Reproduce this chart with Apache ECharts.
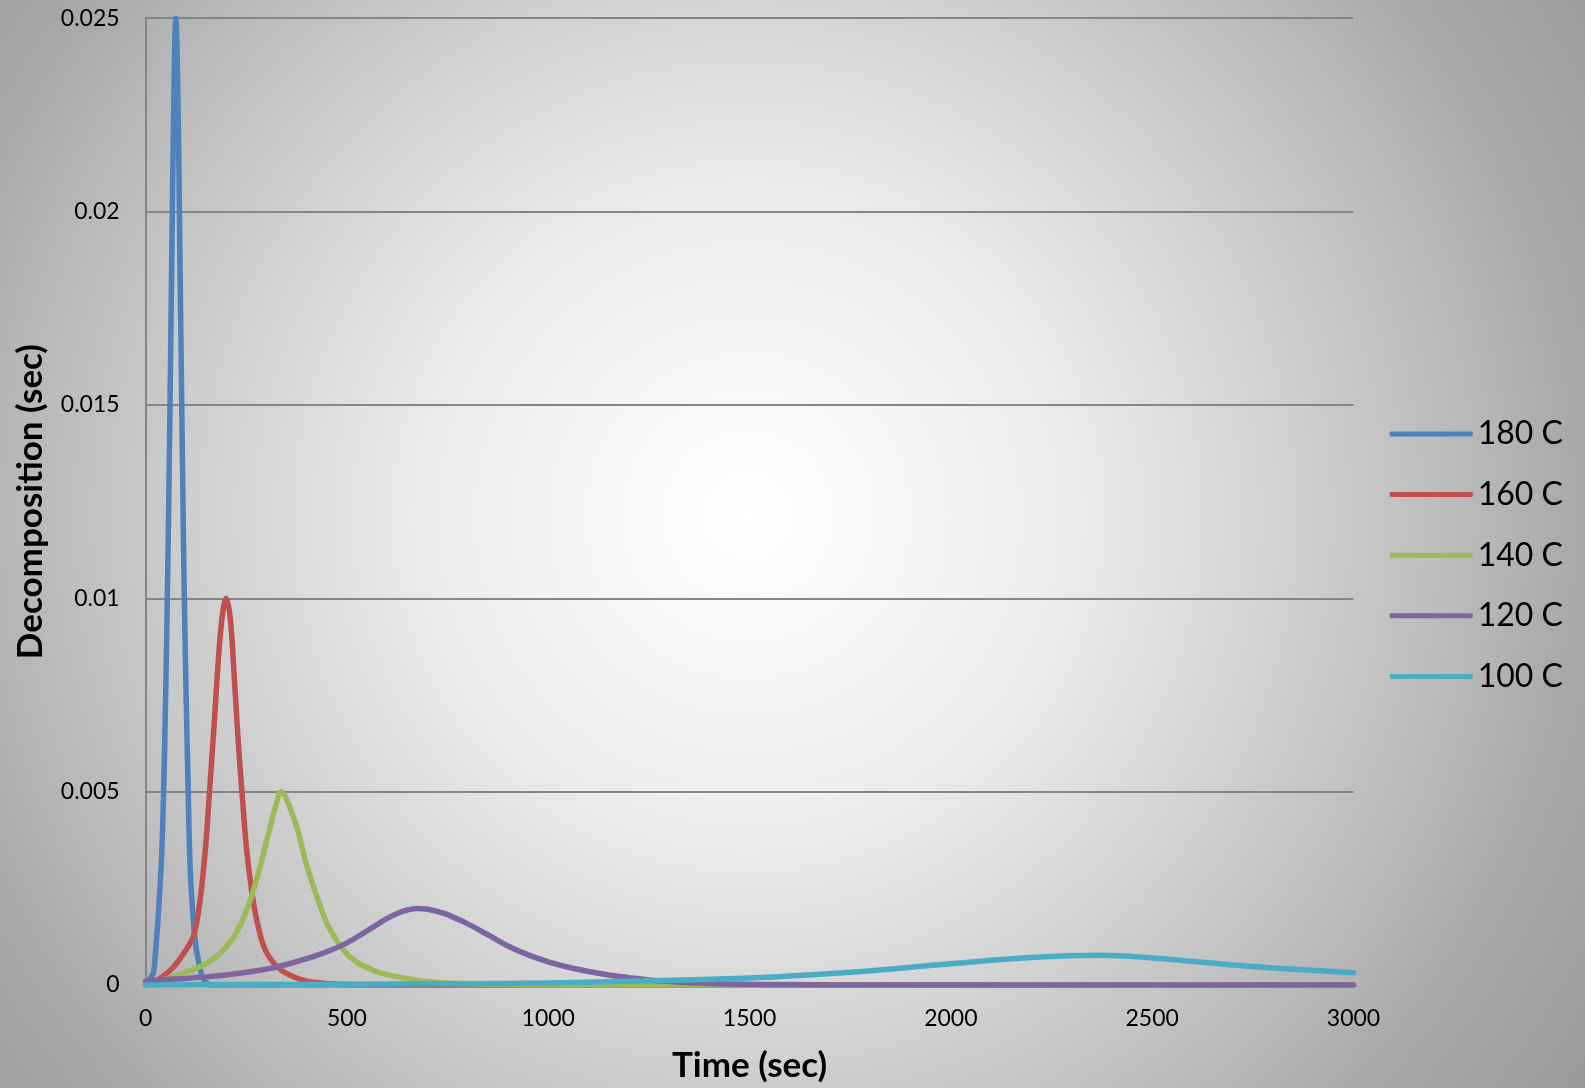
<!DOCTYPE html>
<html>
<head>
<meta charset="utf-8">
<script src="https://cdn.jsdelivr.net/npm/echarts@6/dist/echarts.min.js"></script>
<style>
html,body{margin:0;padding:0;}
#chart{width:1585px;height:1088px;}
</style>
</head>
<body>
<div id="chart"></div>
<script>
// Series names
const seriesNames = ['180 C', '160 C', '140 C', '120 C', '100 C'];

// 180 C
const t180 = [0, 5, 10, 15, 20, 25, 30, 35, 40, 45, 50, 55, 60, 65, 70, 75, 80, 85, 90, 95, 100, 105, 110, 115, 120, 125, 130, 135, 140, 145, 150, 155, 160, 3000];
const v180 = [0, 0.00008, 0.00015, 0.00022, 0.00035, 0.0009, 0.0016, 0.0024, 0.0034, 0.0051, 0.0076, 0.0107, 0.0145, 0.0188, 0.0228, 0.025, 0.0232, 0.019, 0.0148, 0.0108, 0.0078, 0.0054, 0.0032, 0.0022, 0.0015, 0.001, 0.0007, 0.00042, 0.00025, 0.00013, 0.00007, 0.00003, 0, 0];

// 160 C
const t160 = [0, 10, 20, 30, 40, 50, 60, 70, 80, 90, 100, 110, 120, 130, 140, 150, 160, 170, 180, 190, 200, 210, 220, 230, 240, 250, 260, 270, 280, 290, 300, 310, 320, 330, 340, 350, 360, 370, 380, 390, 400, 420, 440, 460, 500, 550, 3000];
const v160 = [0, 0.00003, 0.00007, 0.00013, 0.0002, 0.00028, 0.00037, 0.00047, 0.0006, 0.00075, 0.0009, 0.00107, 0.0013, 0.0018, 0.0026, 0.0037, 0.0052, 0.0067, 0.0083, 0.0095, 0.01, 0.0095, 0.008, 0.0063, 0.0049, 0.0036, 0.0027, 0.002, 0.0015, 0.0011, 0.00085, 0.00068, 0.00055, 0.00045, 0.00036, 0.0003, 0.00025, 0.0002, 0.00016, 0.00013, 0.0001, 0.00007, 0.00005, 0.00003, 0.00001, 0, 0];

// 140 C
const t140 = [0, 25, 50, 75, 100, 125, 150, 175, 200, 225, 250, 275, 300, 325, 337, 350, 375, 400, 425, 450, 475, 500, 525, 550, 575, 600, 625, 650, 675, 700, 750, 800, 900, 1000, 3000];
const v140 = [0, 0.00007, 0.00015, 0.00024, 0.00033, 0.00043, 0.00055, 0.00073, 0.00098, 0.00135, 0.0019, 0.0027, 0.0037, 0.0047, 0.005, 0.0048, 0.0041, 0.0031, 0.0023, 0.0016, 0.00115, 0.0008, 0.00059, 0.00045, 0.00034, 0.00027, 0.00021, 0.00016, 0.00012, 0.00009, 0.00005, 0.00003, 0.00001, 0, 0];

// 120 C
const t120 = [0, 50, 100, 150, 200, 250, 300, 350, 400, 450, 500, 550, 600, 625, 650, 675, 700, 725, 750, 800, 850, 900, 950, 1000, 1050, 1100, 1150, 1200, 1250, 1300, 1350, 1400, 1500, 1600, 1800, 3000];
const v120 = [0.0001, 0.00014, 0.00017, 0.00021, 0.00026, 0.00033, 0.00041, 0.00053, 0.00068, 0.00086, 0.00109, 0.0014, 0.00172, 0.00185, 0.00194, 0.00198, 0.00196, 0.0019, 0.00182, 0.00158, 0.0013, 0.00101, 0.00078, 0.0006, 0.00046, 0.00035, 0.00026, 0.00019, 0.00013, 0.00009, 0.00006, 0.00004, 0.00002, 0.00001, 0, 0];

// 100 C
const t100 = [0, 250, 500, 750, 1000, 1250, 1500, 1750, 2000, 2200, 2370, 2500, 2750, 3000];
const v100 = [0, 0.00001, 0.00002, 0.00003, 0.00005, 0.00011, 0.00018, 0.00033, 0.00055, 0.00071, 0.00077, 0.0007, 0.00048, 0.00032];

// Axis ticks
const xTicks = [0, 500, 1000, 1500, 2000, 2500, 3000];
const yTicks = [0, 0.005, 0.01, 0.015, 0.02, 0.025];

const colors = ['#4F81BD', '#C0504D', '#9BBB59', '#8064A2', '#4BACC6'];
const times = [t180, t160, t140, t120, t100];
const vals = [v180, v160, v140, v120, v100];

const FONT = 'Lato, "Open Sans", sans-serif';

const chart = echarts.init(document.getElementById('chart'), null, {renderer: 'canvas'});

const series = seriesNames.map((name, i) => ({
  name: name,
  type: 'line',
  data: times[i].map((t, j) => [t, vals[i][j]]),
  smooth: 0.4,
  showSymbol: false,
  symbol: 'none',
  lineStyle: {color: colors[i], width: 5.5, cap: 'round', join: 'round'},
  itemStyle: {color: colors[i]},
  z: 3 + i
}));

chart.setOption({
  animation: false,
  backgroundColor: {
    type: 'radial', x: 0.472, y: 0.474, r: 0.93,
    colorStops: [
      {offset: 0, color: '#ffffff'},
      {offset: 0.12, color: '#f8f8f8'},
      {offset: 0.32, color: '#ebebeb'},
      {offset: 0.5, color: '#d5d5d5'},
      {offset: 0.74, color: '#b5b5b5'},
      {offset: 0.82, color: '#a9a9a9'},
      {offset: 1, color: '#9a9a9a'}
    ]
  },
  grid: {left: 145.6, right: 231.5, top: 18.2, bottom: 102.1, containLabel: false},
  legend: {
    orient: 'vertical',
    right: 17,
    top: 413,
    icon: 'roundRect',
    itemWidth: 83,
    itemHeight: 5,
    itemGap: 28.6,
    data: seriesNames,
    textStyle: {fontFamily: FONT, fontSize: 32, color: '#000', lineHeight: 32}
  },
  xAxis: {
    type: 'value',
    min: xTicks[0],
    max: xTicks[xTicks.length - 1],
    interval: xTicks[1] - xTicks[0],
    name: 'Time (sec)',
    nameLocation: 'middle',
    nameGap: 63,
    nameTextStyle: {fontFamily: FONT, fontSize: 35, fontWeight: 'bold', color: '#000'},
    axisLine: {show: true, lineStyle: {color: '#868686', width: 2}},
    axisTick: {show: false},
    axisLabel: {fontFamily: FONT, fontSize: 23, color: '#000', margin: 22, formatter: v => String(v)},
    splitLine: {show: false}
  },
  yAxis: {
    type: 'value',
    min: yTicks[0],
    max: yTicks[yTicks.length - 1],
    interval: yTicks[1] - yTicks[0],
    name: 'Decomposition (sec)',
    nameLocation: 'middle',
    nameGap: 97,
    nameTextStyle: {fontFamily: FONT, fontSize: 35, fontWeight: 'bold', color: '#000'},
    axisLine: {show: true, lineStyle: {color: '#868686', width: 2}},
    axisTick: {show: false},
    axisLabel: {fontFamily: FONT, fontSize: 23, color: '#000', margin: 26},
    splitLine: {show: true, lineStyle: {color: '#868686', width: 2}}
  },
  series: series
});
</script>
</body>
</html>
